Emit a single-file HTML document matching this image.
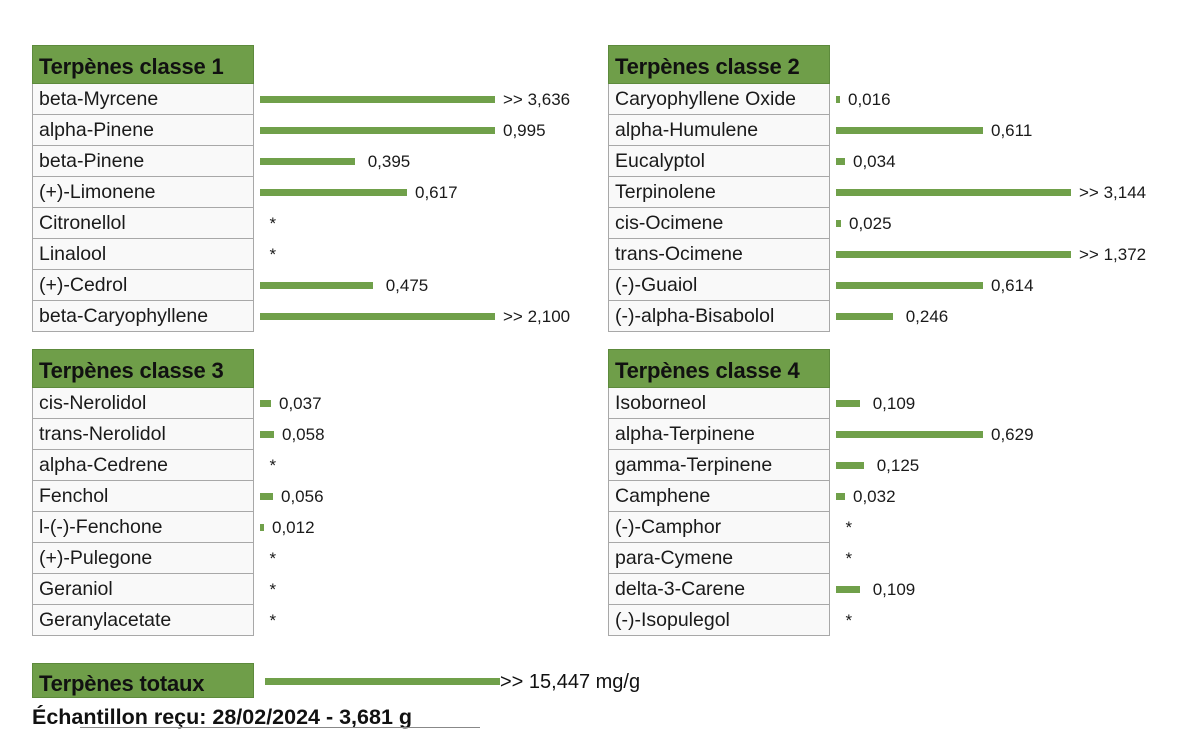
<!DOCTYPE html>
<html><head><meta charset="utf-8"><style>
body{margin:0;width:1200px;height:729px;background:#fff;position:relative;overflow:hidden;font-family:"Liberation Sans",sans-serif;color:#111}
.t{position:absolute;width:222px}
.h{height:39px;background:#6f9e49;border:1px solid #5d8a3c;box-sizing:border-box;font-size:22px;font-weight:bold;line-height:42px;padding-left:6px;color:#111;letter-spacing:-0.2px}
.r{position:relative;height:31px;box-sizing:border-box;border:1px solid #a8a8a8;border-top:none;background:#f9f9f9;font-size:19.5px;line-height:31px;padding-left:6px;white-space:nowrap;color:#1a1a1a}
.v{position:absolute;left:227px;top:0;height:30px;display:flex;align-items:center;white-space:nowrap;font-size:17px}
.v i{display:inline-block;height:7px;background:#70a04a;margin-right:8px}
</style></head><body>

<div class="t" style="left:32px;top:45px">
<div class="h">Terpènes classe 1</div>
<div class="r">beta-Myrcene<span class="v"><i style="width:235px"></i>&gt;&gt; 3,636</span></div>
<div class="r">alpha-Pinene<span class="v"><i style="width:235px"></i>0,995</span></div>
<div class="r">beta-Pinene<span class="v"><i style="width:95px"></i>&nbsp;0,395</span></div>
<div class="r">(+)-Limonene<span class="v"><i style="width:147px"></i>0,617</span></div>
<div class="r">Citronellol<span class="v">&nbsp;&nbsp;*</span></div>
<div class="r">Linalool<span class="v">&nbsp;&nbsp;*</span></div>
<div class="r">(+)-Cedrol<span class="v"><i style="width:113px"></i>&nbsp;0,475</span></div>
<div class="r">beta-Caryophyllene<span class="v"><i style="width:235px"></i>&gt;&gt; 2,100</span></div>
</div>

<div class="t" style="left:608px;top:45px">
<div class="h">Terpènes classe 2</div>
<div class="r">Caryophyllene Oxide<span class="v"><i style="width:4px"></i>0,016</span></div>
<div class="r">alpha-Humulene<span class="v"><i style="width:147px"></i>0,611</span></div>
<div class="r">Eucalyptol<span class="v"><i style="width:9px"></i>0,034</span></div>
<div class="r">Terpinolene<span class="v"><i style="width:235px"></i>&gt;&gt; 3,144</span></div>
<div class="r">cis-Ocimene<span class="v"><i style="width:5px"></i>0,025</span></div>
<div class="r">trans-Ocimene<span class="v"><i style="width:235px"></i>&gt;&gt; 1,372</span></div>
<div class="r">(-)-Guaiol<span class="v"><i style="width:147px"></i>0,614</span></div>
<div class="r">(-)-alpha-Bisabolol<span class="v"><i style="width:57px"></i>&nbsp;0,246</span></div>
</div>

<div class="t" style="left:32px;top:349px">
<div class="h">Terpènes classe 3</div>
<div class="r">cis-Nerolidol<span class="v"><i style="width:11px"></i>0,037</span></div>
<div class="r">trans-Nerolidol<span class="v"><i style="width:14px"></i>0,058</span></div>
<div class="r">alpha-Cedrene<span class="v">&nbsp;&nbsp;*</span></div>
<div class="r">Fenchol<span class="v"><i style="width:13px"></i>0,056</span></div>
<div class="r">l-(-)-Fenchone<span class="v"><i style="width:4px"></i>0,012</span></div>
<div class="r">(+)-Pulegone<span class="v">&nbsp;&nbsp;*</span></div>
<div class="r">Geraniol<span class="v">&nbsp;&nbsp;*</span></div>
<div class="r">Geranylacetate<span class="v">&nbsp;&nbsp;*</span></div>
</div>

<div class="t" style="left:608px;top:349px">
<div class="h">Terpènes classe 4</div>
<div class="r">Isoborneol<span class="v"><i style="width:24px"></i>&nbsp;0,109</span></div>
<div class="r">alpha-Terpinene<span class="v"><i style="width:147px"></i>0,629</span></div>
<div class="r">gamma-Terpinene<span class="v"><i style="width:28px"></i>&nbsp;0,125</span></div>
<div class="r">Camphene<span class="v"><i style="width:9px"></i>0,032</span></div>
<div class="r">(-)-Camphor<span class="v">&nbsp;&nbsp;*</span></div>
<div class="r">para-Cymene<span class="v">&nbsp;&nbsp;*</span></div>
<div class="r">delta-3-Carene<span class="v"><i style="width:24px"></i>&nbsp;0,109</span></div>
<div class="r">(-)-Isopulegol<span class="v">&nbsp;&nbsp;*</span></div>
</div>

<div class="h" style="position:absolute;left:32px;top:663px;width:222px;height:35px;line-height:40px">Terpènes totaux</div>
<div style="position:absolute;left:265px;top:678px;width:235px;height:7px;background:#70a04a"></div>
<div style="position:absolute;left:500px;top:670px;font-size:20px;line-height:24px">&gt;&gt; 15,447 mg/g</div>
<div style="position:absolute;left:32px;top:704px;font-size:21.5px;font-weight:bold;line-height:26px">Échantillon reçu: 28/02/2024 - 3,681 g</div>
<div style="position:absolute;left:80px;top:727px;width:400px;height:1px;background:#888"></div>
</body></html>
